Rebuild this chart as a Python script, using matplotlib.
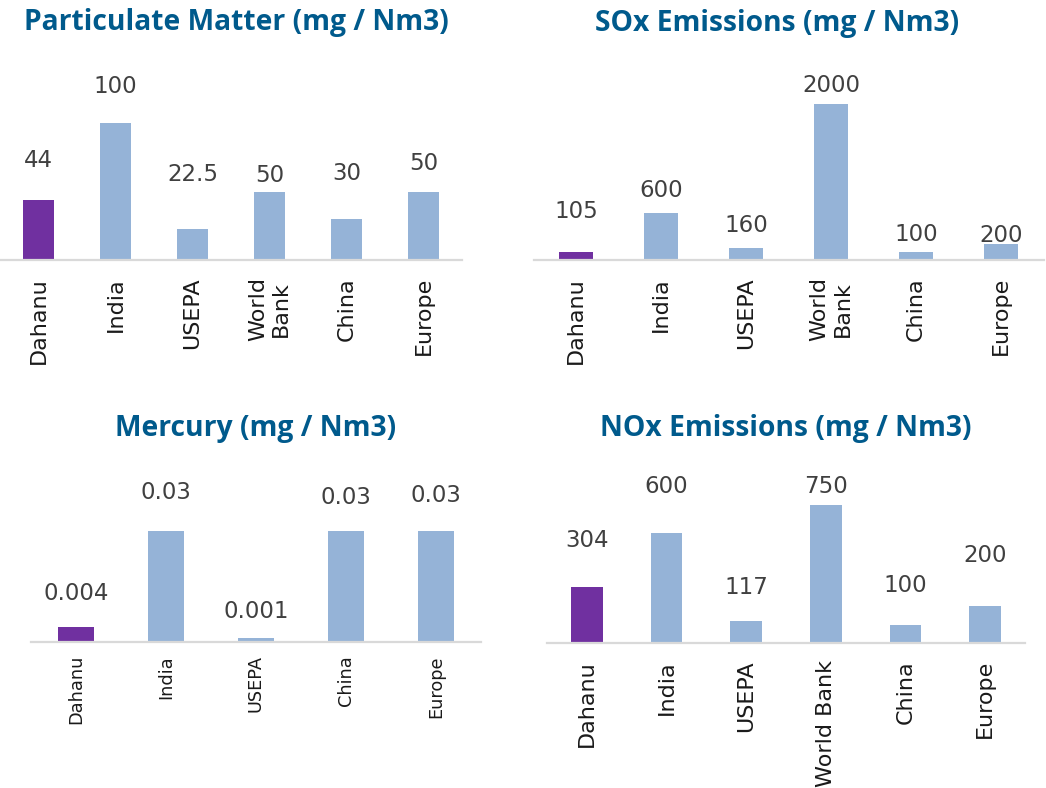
import matplotlib
matplotlib.use("Agg")
import matplotlib.pyplot as plt

# ---------------- data ----------------
pm_categories = ["Dahanu", "India", "USEPA", "World\nBank", "China", "Europe"]
pm_values = [44, 100, 22.5, 50, 30, 50]
pm_labels = ["44", "100", "22.5", "50", "30", "50"]

sox_categories = ["Dahanu", "India", "USEPA", "World\nBank", "China", "Europe"]
sox_values = [105, 600, 160, 2000, 100, 200]
sox_labels = ["105", "600", "160", "2000", "100", "200"]

hg_categories = ["Dahanu", "India", "USEPA", "China", "Europe"]
hg_values = [0.004, 0.03, 0.001, 0.03, 0.03]
hg_labels = ["0.004", "0.03", "0.001", "0.03", "0.03"]

nox_categories = ["Dahanu", "India", "USEPA", "World Bank", "China", "Europe"]
nox_values = [304, 600, 117, 750, 100, 200]
nox_labels = ["304", "600", "117", "750", "100", "200"]

titles = ["Particulate Matter (mg / Nm3)", "SOx Emissions (mg / Nm3)",
          "Mercury (mg / Nm3)", "NOx Emissions (mg / Nm3)"]

# ---------------- style ----------------
W, H = 1046, 788
DPI = 100
PURPLE = "#7030A0"
BLUE = "#95B3D7"
TITLE_C = "#005A8C"
VAL_C = "#404040"
TICK_C = "#1A1A1A"
AXIS_C = "#D9D9D9"
PX2PT = 72.0 / DPI

plt.rcParams['font.family'] = ['DejaVu Sans']

fig = plt.figure(figsize=(W / DPI, H / DPI), dpi=DPI)


def rect(left, top, right, bottom):
    return [left / W, 1 - bottom / H, (right - left) / W, (bottom - top) / H]


panels = [
    # categories, values, labels, axes rect px, ymax, label gaps px, tick fs, tick pad px, title pos
    (pm_categories, pm_values, pm_labels, (0, 60, 462, 260), 146.0,
     [33, 30, 48, 10, 39, 22], 16, 17, (236, 30)),
    (sox_categories, sox_values, sox_labels, (533.5, 60, 1043.5, 260), 2564.0,
     [34, 16, 16, 12, 11, 2], 16, 17, (777, 31)),
    (hg_categories, hg_values, hg_labels, (31, 460, 481, 642), 0.0492,
     [27, 32, 20, 27, 29], 12.8, 13, (256, 436)),
    (nox_categories, nox_values, nox_labels, (547, 460, 1025, 643), 995.0,
     [40, 40, 27, 12, 33, 44], 16, 17, (786, 436)),
]

for (cats, vals, labs, r, ymax, gaps, tfs, tpad, tpos), title in zip(panels, titles):
    ax = fig.add_axes(rect(*r))
    x = list(range(len(cats)))
    colors = [PURPLE] + [BLUE] * (len(cats) - 1)
    ax.bar(x, vals, width=0.4, color=colors, zorder=2)
    ax.set_xlim(-0.5, len(cats) - 0.5)
    ax.set_ylim(0, ymax)
    for s in ["top", "left", "right"]:
        ax.spines[s].set_visible(False)
    ax.spines["bottom"].set_color(AXIS_C)
    ax.spines["bottom"].set_linewidth(1.6)
    ax.set_yticks([])
    ax.set_xticks(x)
    ax.set_xticklabels(cats, rotation=90, fontsize=tfs, color=TICK_C)
    for t in ax.get_xticklabels():
        t.set_multialignment("center")
    ax.tick_params(axis="x", length=0, pad=tpad * PX2PT)
    ax.patch.set_alpha(0)
    for xi, v, lab, g in zip(x, vals, labs, gaps):
        ax.annotate(lab, (xi, v), xytext=(0, g * PX2PT), textcoords="offset points",
                    ha="center", va="baseline", fontsize=16.5, color=VAL_C)
    fig.text(tpos[0] / W, 1 - tpos[1] / H, title, ha="center", va="baseline",
             fontsize=20.3, fontweight="bold", color=TITLE_C, family=["Open Sans", "DejaVu Sans"])

fig.savefig("out.png", dpi=DPI)
